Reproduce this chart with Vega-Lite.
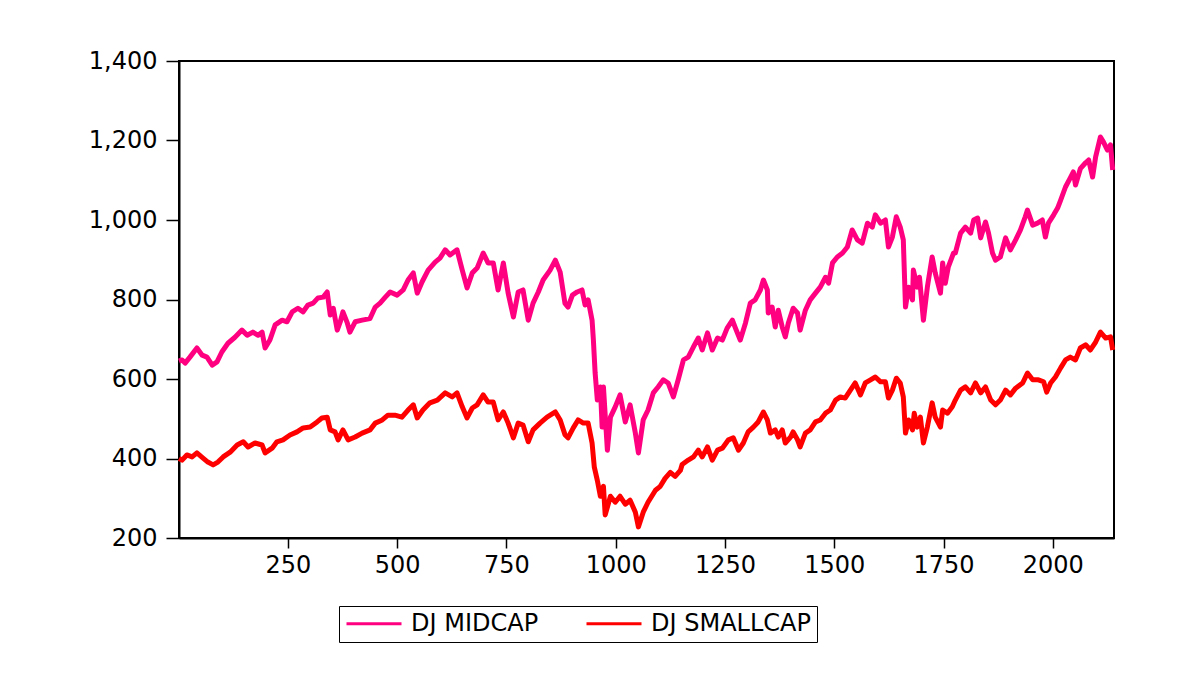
{
  "$schema": "https://vega.github.io/schema/vega-lite/v6.json",
  "width": 935,
  "height": 477,
  "autosize": {"type": "none"},
  "padding": {"left": 179, "top": 61, "right": 87, "bottom": 143},
  "background": "white",
  "config": {
    "font": "DejaVu Sans",
    "view": {"stroke": "black", "strokeWidth": 2},
    "axis": {"grid": false, "domainColor": "black", "domainWidth": 2, "tickColor": "black", "tickWidth": 1.5, "labelColor": "black", "labelFontSize": 24, "labelFont": "DejaVu Sans"}
  },
  "datasets": {
    "mid": [
      {"t":1,"v":645},{"t":8,"v":648},{"t":15,"v":640},{"t":26,"v":655},{"t":42,"v":678},{"t":54,"v":660},{"t":65,"v":655},{"t":77,"v":635},{"t":88,"v":643},{"t":99,"v":668},{"t":113,"v":690},{"t":129,"v":705},{"t":145,"v":723},{"t":157,"v":710},{"t":170,"v":718},{"t":182,"v":710},{"t":191,"v":718},{"t":198,"v":678},{"t":209,"v":698},{"t":221,"v":736},{"t":237,"v":748},{"t":248,"v":744},{"t":260,"v":769},{"t":273,"v":778},{"t":285,"v":769},{"t":296,"v":786},{"t":308,"v":791},{"t":319,"v":804},{"t":331,"v":806},{"t":340,"v":819},{"t":347,"v":761},{"t":354,"v":778},{"t":363,"v":723},{"t":370,"v":744},{"t":376,"v":769},{"t":386,"v":741},{"t":392,"v":718},{"t":404,"v":744},{"t":420,"v":748},{"t":438,"v":752},{"t":450,"v":781},{"t":461,"v":791},{"t":473,"v":806},{"t":484,"v":819},{"t":500,"v":811},{"t":514,"v":824},{"t":525,"v":849},{"t":537,"v":867},{"t":546,"v":816},{"t":557,"v":844},{"t":571,"v":874},{"t":587,"v":894},{"t":598,"v":904},{"t":610,"v":925},{"t":621,"v":912},{"t":637,"v":925},{"t":649,"v":874},{"t":660,"v":829},{"t":672,"v":867},{"t":683,"v":879},{"t":697,"v":917},{"t":708,"v":892},{"t":720,"v":892},{"t":731,"v":824},{"t":743,"v":892},{"t":754,"v":816},{"t":766,"v":756},{"t":777,"v":819},{"t":788,"v":824},{"t":800,"v":748},{"t":811,"v":791},{"t":823,"v":819},{"t":834,"v":849},{"t":850,"v":874},{"t":862,"v":899},{"t":873,"v":869},{"t":884,"v":790},{"t":891,"v":781},{"t":901,"v":811},{"t":912,"v":819},{"t":923,"v":824},{"t":930,"v":786},{"t":937,"v":799},{"t":946,"v":748},{"t":949,"v":698},{"t":953,"v":615},{"t":958,"v":547},{"t":965,"v":580},{"t":969,"v":479},{"t":972,"v":580},{"t":981,"v":421},{"t":988,"v":504},{"t":999,"v":530},{"t":1010,"v":560},{"t":1022,"v":492},{"t":1033,"v":535},{"t":1045,"v":464},{"t":1052,"v":414},{"t":1063,"v":497},{"t":1074,"v":522},{"t":1086,"v":565},{"t":1097,"v":580},{"t":1109,"v":598},{"t":1120,"v":590},{"t":1132,"v":555},{"t":1143,"v":598},{"t":1155,"v":648},{"t":1166,"v":655},{"t":1178,"v":681},{"t":1189,"v":703},{"t":1198,"v":673},{"t":1210,"v":716},{"t":1221,"v":673},{"t":1233,"v":703},{"t":1244,"v":698},{"t":1255,"v":728},{"t":1267,"v":748},{"t":1274,"v":728},{"t":1285,"v":698},{"t":1297,"v":741},{"t":1308,"v":791},{"t":1319,"v":799},{"t":1331,"v":824},{"t":1338,"v":849},{"t":1347,"v":824},{"t":1349,"v":766},{"t":1358,"v":781},{"t":1365,"v":731},{"t":1372,"v":773},{"t":1381,"v":731},{"t":1388,"v":706},{"t":1395,"v":741},{"t":1406,"v":778},{"t":1416,"v":766},{"t":1422,"v":723},{"t":1434,"v":773},{"t":1445,"v":799},{"t":1457,"v":816},{"t":1468,"v":831},{"t":1480,"v":856},{"t":1487,"v":841},{"t":1496,"v":892},{"t":1507,"v":907},{"t":1519,"v":917},{"t":1530,"v":932},{"t":1541,"v":975},{"t":1553,"v":950},{"t":1564,"v":942},{"t":1576,"v":992},{"t":1587,"v":982},{"t":1594,"v":1013},{"t":1606,"v":992},{"t":1617,"v":1000},{"t":1624,"v":932},{"t":1633,"v":957},{"t":1642,"v":1008},{"t":1651,"v":982},{"t":1658,"v":950},{"t":1663,"v":781},{"t":1670,"v":831},{"t":1679,"v":799},{"t":1681,"v":874},{"t":1690,"v":831},{"t":1695,"v":856},{"t":1704,"v":748},{"t":1713,"v":831},{"t":1724,"v":907},{"t":1731,"v":867},{"t":1743,"v":816},{"t":1748,"v":892},{"t":1754,"v":841},{"t":1761,"v":882},{"t":1773,"v":917},{"t":1777,"v":917},{"t":1789,"v":967},{"t":1800,"v":982},{"t":1812,"v":967},{"t":1819,"v":1000},{"t":1828,"v":1005},{"t":1835,"v":955},{"t":1846,"v":995},{"t":1853,"v":967},{"t":1862,"v":917},{"t":1869,"v":899},{"t":1880,"v":907},{"t":1892,"v":955},{"t":1903,"v":925},{"t":1915,"v":950},{"t":1926,"v":975},{"t":1937,"v":1008},{"t":1942,"v":1025},{"t":1954,"v":987},{"t":1965,"v":992},{"t":1976,"v":1000},{"t":1983,"v":957},{"t":1990,"v":992},{"t":2002,"v":1013},{"t":2011,"v":1030},{"t":2018,"v":1050},{"t":2029,"v":1083},{"t":2040,"v":1106},{"t":2047,"v":1121},{"t":2052,"v":1088},{"t":2063,"v":1129},{"t":2075,"v":1144},{"t":2082,"v":1151},{"t":2091,"v":1108},{"t":2098,"v":1159},{"t":2109,"v":1209},{"t":2116,"v":1196},{"t":2125,"v":1176},{"t":2132,"v":1189},{"t":2137,"v":1126}
    ],
    "small": [
      {"t":1,"v":400},{"t":8,"v":396},{"t":19,"v":409},{"t":31,"v":404},{"t":42,"v":414},{"t":56,"v":401},{"t":67,"v":391},{"t":79,"v":384},{"t":90,"v":391},{"t":102,"v":404},{"t":118,"v":416},{"t":134,"v":434},{"t":148,"v":442},{"t":159,"v":429},{"t":175,"v":439},{"t":191,"v":434},{"t":198,"v":414},{"t":214,"v":426},{"t":225,"v":442},{"t":239,"v":447},{"t":255,"v":459},{"t":271,"v":467},{"t":285,"v":477},{"t":301,"v":479},{"t":317,"v":492},{"t":328,"v":502},{"t":340,"v":504},{"t":347,"v":472},{"t":358,"v":467},{"t":365,"v":447},{"t":376,"v":472},{"t":388,"v":447},{"t":404,"v":454},{"t":420,"v":464},{"t":438,"v":472},{"t":450,"v":489},{"t":466,"v":497},{"t":479,"v":509},{"t":495,"v":509},{"t":511,"v":504},{"t":525,"v":522},{"t":537,"v":535},{"t":546,"v":502},{"t":559,"v":522},{"t":575,"v":540},{"t":592,"v":547},{"t":610,"v":565},{"t":626,"v":555},{"t":637,"v":565},{"t":649,"v":530},{"t":660,"v":502},{"t":672,"v":527},{"t":683,"v":535},{"t":697,"v":560},{"t":708,"v":542},{"t":720,"v":542},{"t":731,"v":497},{"t":743,"v":517},{"t":754,"v":489},{"t":766,"v":452},{"t":777,"v":489},{"t":788,"v":484},{"t":800,"v":442},{"t":811,"v":472},{"t":827,"v":489},{"t":843,"v":504},{"t":862,"v":517},{"t":873,"v":497},{"t":884,"v":460},{"t":891,"v":452},{"t":903,"v":477},{"t":914,"v":497},{"t":926,"v":489},{"t":937,"v":489},{"t":946,"v":439},{"t":951,"v":379},{"t":958,"v":345},{"t":965,"v":305},{"t":972,"v":330},{"t":976,"v":258},{"t":988,"v":305},{"t":999,"v":290},{"t":1010,"v":305},{"t":1022,"v":285},{"t":1033,"v":295},{"t":1045,"v":265},{"t":1052,"v":228},{"t":1063,"v":265},{"t":1074,"v":290},{"t":1091,"v":320},{"t":1102,"v":330},{"t":1113,"v":350},{"t":1125,"v":365},{"t":1136,"v":355},{"t":1148,"v":370},{"t":1152,"v":385},{"t":1166,"v":396},{"t":1178,"v":404},{"t":1189,"v":421},{"t":1198,"v":404},{"t":1210,"v":429},{"t":1221,"v":396},{"t":1233,"v":421},{"t":1244,"v":426},{"t":1258,"v":447},{"t":1269,"v":452},{"t":1281,"v":421},{"t":1292,"v":439},{"t":1303,"v":467},{"t":1315,"v":479},{"t":1326,"v":492},{"t":1338,"v":517},{"t":1347,"v":497},{"t":1354,"v":464},{"t":1365,"v":472},{"t":1372,"v":454},{"t":1381,"v":472},{"t":1388,"v":439},{"t":1400,"v":454},{"t":1406,"v":467},{"t":1416,"v":447},{"t":1422,"v":429},{"t":1434,"v":464},{"t":1445,"v":472},{"t":1457,"v":492},{"t":1468,"v":497},{"t":1480,"v":514},{"t":1491,"v":522},{"t":1503,"v":547},{"t":1514,"v":555},{"t":1525,"v":552},{"t":1537,"v":572},{"t":1548,"v":590},{"t":1560,"v":560},{"t":1571,"v":590},{"t":1583,"v":598},{"t":1594,"v":605},{"t":1606,"v":593},{"t":1617,"v":593},{"t":1624,"v":552},{"t":1633,"v":572},{"t":1642,"v":602},{"t":1651,"v":590},{"t":1658,"v":555},{"t":1663,"v":464},{"t":1670,"v":497},{"t":1679,"v":472},{"t":1683,"v":514},{"t":1690,"v":479},{"t":1697,"v":504},{"t":1704,"v":439},{"t":1713,"v":479},{"t":1724,"v":540},{"t":1731,"v":504},{"t":1743,"v":479},{"t":1748,"v":522},{"t":1759,"v":514},{"t":1770,"v":530},{"t":1777,"v":547},{"t":1789,"v":572},{"t":1800,"v":580},{"t":1812,"v":565},{"t":1823,"v":590},{"t":1835,"v":565},{"t":1846,"v":580},{"t":1858,"v":547},{"t":1869,"v":535},{"t":1880,"v":547},{"t":1892,"v":572},{"t":1903,"v":560},{"t":1915,"v":577},{"t":1931,"v":590},{"t":1942,"v":615},{"t":1954,"v":598},{"t":1967,"v":598},{"t":1979,"v":593},{"t":1986,"v":567},{"t":1995,"v":590},{"t":2006,"v":605},{"t":2018,"v":628},{"t":2029,"v":648},{"t":2040,"v":655},{"t":2052,"v":648},{"t":2063,"v":678},{"t":2075,"v":686},{"t":2086,"v":673},{"t":2098,"v":693},{"t":2109,"v":718},{"t":2121,"v":703},{"t":2132,"v":706},{"t":2137,"v":673}
    ]
  },
  "encoding": {
    "x": {
      "field": "t", "type": "quantitative",
      "scale": {"domain": [1, 2140], "nice": false, "zero": false},
      "axis": {"title": null, "values": [250, 500, 750, 1000, 1250, 1500, 1750, 2000], "format": "d", "tickSize": 10, "labelPadding": 5, "labelFlush": false}
    },
    "y": {
      "field": "v", "type": "quantitative",
      "scale": {"domain": [200, 1400], "nice": false, "zero": false},
      "axis": {"title": null, "values": [200, 400, 600, 800, 1000, 1200, 1400], "format": ",.0f", "tickSize": 13, "labelPadding": 9}
    }
  },
  "layer": [
    {
      "data": {"name": "mid"},
      "mark": {"type": "line", "strokeWidth": 5, "strokeJoin": "round"},
      "encoding": {
        "color": {
          "datum": "DJ MIDCAP",
          "scale": {"domain": ["DJ MIDCAP", "DJ SMALLCAP"], "range": ["#FF0080", "#FF0000"]},
          "legend": {
            "title": null, "orient": "none", "legendX": 160, "legendY": 545, "direction": "horizontal",
            "symbolType": "stroke", "symbolSize": 3025, "symbolStrokeWidth": 3, "clipHeight": 23,
            "labelFontSize": 24, "labelFont": "DejaVu Sans", "labelColor": "black", "labelOffset": 8,
            "strokeColor": "black", "padding": 6, "columnPadding": 46, "labelLimit": 400
          }
        }
      }
    },
    {
      "data": {"name": "small"},
      "mark": {"type": "line", "strokeWidth": 5, "strokeJoin": "round"},
      "encoding": {
        "color": {"datum": "DJ SMALLCAP"}
      }
    }
  ]
}
